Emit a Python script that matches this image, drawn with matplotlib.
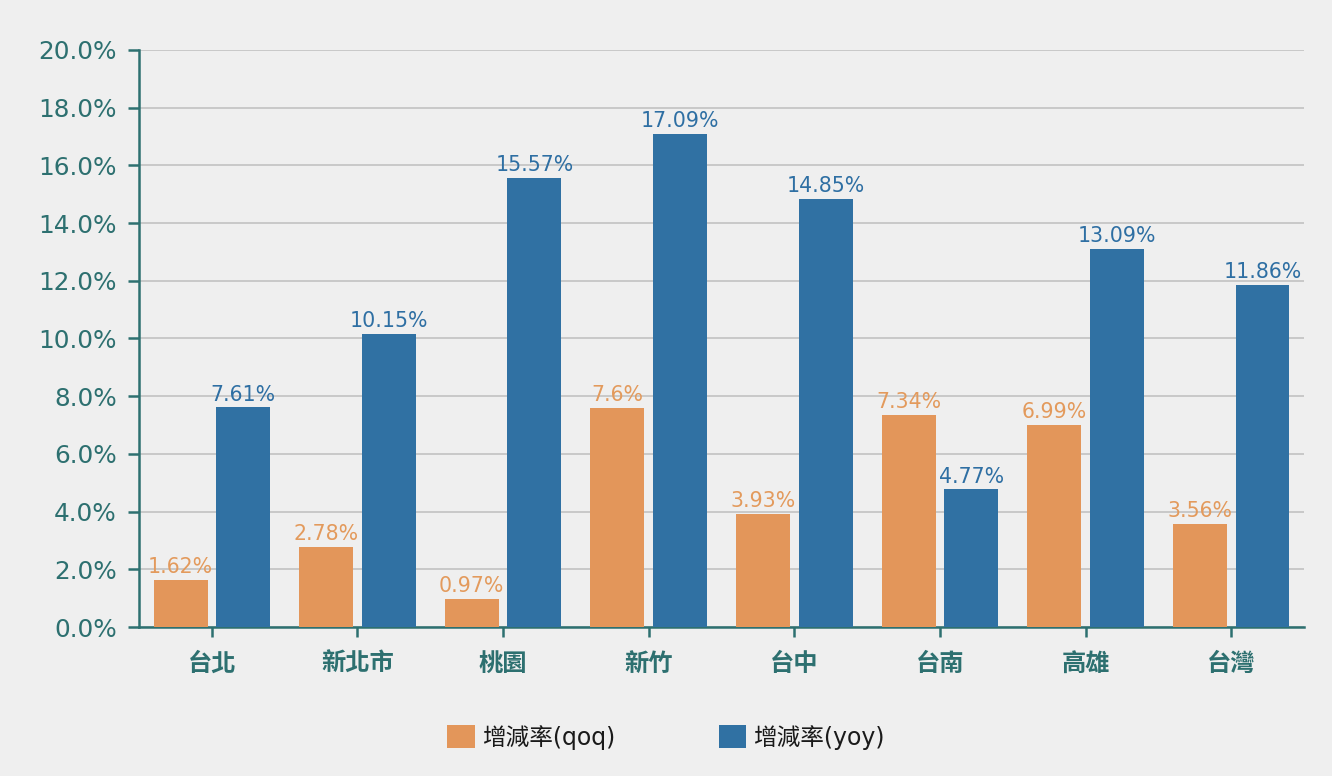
import matplotlib
matplotlib.use("Agg")
import matplotlib.pyplot as plt
import numpy as np
from matplotlib.patches import Patch

plt.rcParams['font.family'] = ['DejaVu Sans', 'Noto Sans CJK TC']

# data
cities = ["台北", "新北市", "桃園", "新竹", "台中", "台南", "高雄", "台灣"]
qoq = [1.62, 2.78, 0.97, 7.6, 3.93, 7.34, 6.99, 3.56]
yoy = [7.61, 10.15, 15.57, 17.09, 14.85, 4.77, 13.09, 11.86]
series_names = ["增減率(qoq)", "增減率(yoy)"]

orange = "#e3965a"
blue = "#3071a3"
teal = "#2d7070"
bg = "#efefef"

fig = plt.figure(figsize=(13.32, 7.76), dpi=100, facecolor=bg)
ax = fig.add_axes([0.1044, 0.192, 0.8746, 0.7436], facecolor=bg)

x = np.arange(len(cities))
w = 0.37
off = 0.215
b1 = ax.bar(x - off, qoq, w, color=orange, zorder=3)
b2 = ax.bar(x + off, yoy, w, color=blue, zorder=3)

for rect, v in zip(b1, qoq):
    ax.text(rect.get_x() + rect.get_width() / 2, v + 0.1, f"{v:g}%",
            ha="center", va="bottom", color="#e39a5c", fontsize=14.8, zorder=4)
for rect, v in zip(b2, yoy):
    ax.text(rect.get_x() + rect.get_width() / 2, v + 0.1, f"{v:g}%",
            ha="center", va="bottom", color="#2e6fa3", fontsize=14.8, zorder=4)

ax.set_xlim(-0.5, len(cities) - 0.5)
ax.set_ylim(0, 20)
ax.set_yticks(np.arange(0, 20.1, 2))
ax.set_yticklabels([f"{t:.1f}%" for t in np.arange(0, 20.1, 2)])
ax.set_xticks(x)
ax.set_xticklabels(cities, fontsize=17.5, fontweight="bold",
                   family=['Noto Sans CJK TC', 'DejaVu Sans'])
ax.tick_params(axis="y", colors=teal, labelsize=17.8, length=8, width=1.8, pad=8)
ax.tick_params(axis="x", colors=teal, length=7, width=1.8, pad=11)

ax.grid(axis="y", color="#c2c2c2", linewidth=1.2, zorder=0)
for s in ["top", "right"]:
    ax.spines[s].set_visible(False)
for s in ["left", "bottom"]:
    ax.spines[s].set_color(teal)
    ax.spines[s].set_linewidth(1.8)

handles = [Patch(facecolor=orange), Patch(facecolor=blue)]
leg = fig.legend(handles, series_names, loc="center", bbox_to_anchor=(0.5, 0.05),
                 ncol=2, frameon=False, handlelength=1.15, handleheight=1.15,
                 handletextpad=0.3, columnspacing=4.4,
                 prop={'family': ['DejaVu Sans', 'Noto Sans CJK TC'], 'size': 17})
for t in leg.get_texts():
    t.set_color("#1a1a1a")

fig.savefig("out.png", dpi=100, facecolor=bg)
